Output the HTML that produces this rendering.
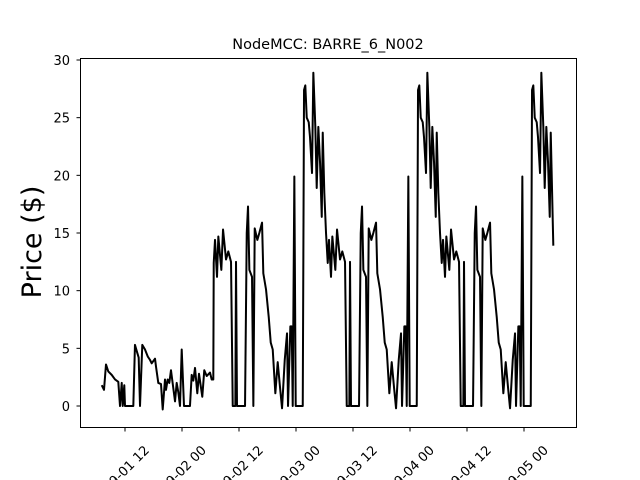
<!DOCTYPE html>
<html>
<head>
<meta charset="utf-8">
<style>
html,body{margin:0;padding:0;background:#fff;overflow:hidden;width:640px;height:480px;}
svg{display:block;font-family:"DejaVu Sans","Liberation Sans",sans-serif;}
</style>
</head>
<body>
<svg id="chart" width="640" height="480" viewBox="0 0 640 480" xmlns="http://www.w3.org/2000/svg" overflow="hidden">
  <rect x="0" y="0" width="640" height="480" fill="#fff"/>
  <text x="328" y="49" font-size="14.5" text-anchor="middle">NodeMCC: BARRE_6_N002</text>
  <text transform="translate(41,242) rotate(-90)" font-size="27" text-anchor="middle">Price ($)</text>
  <g id="yticks"></g>
  <g id="xticks"></g>
  <path id="series" fill="none" stroke="#000" stroke-width="2" stroke-linejoin="round"/>
  <rect x="80.5" y="58.5" width="496" height="369" fill="none" stroke="#000" stroke-width="1"/>
</svg>
<script>
// hours since 2019-09-01 00:00
const firstDayTimes = [31.10,31.58,32.0,32.48,33.2,33.9,34.59,34.95,35.31,35.52,35.85,36.0,37.75,38.1,38.59,38.88,39.16,39.64,40.21,40.78,41.26,41.62,42.32,42.53,43.01,43.58,43.94,44.42,44.63,44.99,45.33,45.68,46.53,46.88,47.22,47.58,47.94,48.42,49.68,50.04,50.38,50.74,51.22,51.58,52.27,52.69,53.2,53.89,54.25,54.59];
const firstDayPrices = [1.8,1.4,3.6,3.0,2.7,2.3,2.1,0,2.0,0,1.8,0,0,5.3,4.6,4.2,0,5.3,4.9,4.3,4.0,3.7,4.1,3.4,2.0,1.9,-0.3,2.3,1.4,2.3,2.0,3.1,0.4,2.0,1.2,0,4.9,0,0,2.7,2.2,3.3,1.1,2.8,0.8,3.1,2.6,2.9,2.3,2.3];

const day2Times = [54.68,54.95,55.37,55.65,56.28,56.64,57.27,57.75,58.32,58.68,59.23,59.37,59.58,61.27,61.63,61.9,62.18,62.74,63.02,63.31,63.86,64.28,64.85,65.12,65.69,66.26,66.68,67.1,67.65,68.15,68.64,69.06,69.63,70.11,70.32,70.81];
const day2Prices = [12.4,14.4,11.2,14.7,11.8,15.3,12.7,13.4,12.5,0,0,12.5,0,0,15,17.3,11.8,11.2,0,15.4,14.4,15,15.9,11.5,10.1,7.7,5.5,4.9,1.1,3.8,1.6,-0.2,4,6.3,0,6.9];

const day3Times = [71.1,71.31,71.65,71.94,73.42,73.69,73.96,74.26,74.68,74.95,75.37,75.65,76.07,76.36,76.7,77.06,77.42,77.63,77.96,78.32,78.68,78.95,79.37,79.65,80.28,80.64,81.27,81.75,82.32,82.68,83.23,83.37,83.58,85.27,85.63,85.9,86.18,86.74,87.02,87.31,87.86,88.28,88.85,89.12,89.69,90.26,90.68,91.1,91.65,92.15,92.64,93.06,93.63,94.11,94.32,94.81];
const day3Prices = [6.9,0,19.9,0,0,27.4,27.8,25,24.6,23.3,20.2,28.9,24.2,18.9,24.2,21.1,16.4,23.7,18.5,15,12.4,14.4,11.2,14.7,11.8,15.3,12.7,13.4,12.5,0,0,12.5,0,0,15,17.3,11.8,11.2,0,15.4,14.4,15,15.9,11.5,10.1,7.7,5.5,4.9,1.1,3.8,1.6,-0.2,4,6.3,0,6.9];

const day4Times = [95.1,95.31,95.65,95.94,97.42,97.69,97.96,98.26,98.68,98.95,99.37,99.65,100.07,100.36,100.7,101.06,101.42,101.63,101.96,102.32,102.68,102.95,103.37,103.65,104.28,104.64,105.27,105.75,106.32,106.68,107.23,107.37,107.58,109.27,109.63,109.9,110.18,110.74,111.02,111.31,111.86,112.28,112.85,113.12,113.69,114.26,114.68,115.1,115.65,116.15,116.64,117.06,117.63,118.11,118.32,118.81];
const day4Prices = [6.9,0,19.9,0,0,27.4,27.8,25,24.6,23.3,20.2,28.9,24.2,18.9,24.2,21.1,16.4,23.7,18.5,15,12.4,14.4,11.2,14.7,11.8,15.3,12.7,13.4,12.5,0,0,12.5,0,0,15,17.3,11.8,11.2,0,15.4,14.4,15,15.9,11.5,10.1,7.7,5.5,4.9,1.1,3.8,1.6,-0.2,4,6.3,0,6.9];

const day5Times = [119.1,119.31,119.65,119.94,121.42,121.69,121.96,122.26,122.68,122.95,123.37,123.65,124.07,124.36,124.7,125.06,125.42,125.63,126.17];
const day5Prices = [6.9,0,19.9,0,0,27.4,27.8,25,24.6,23.3,20.2,28.9,24.2,18.9,24.2,21.1,16.4,23.7,13.9];

const yTicks = [0,5,10,15,20,25,30];
const xTickHours = [36,48,60,72,84,96,108,120];
const xTickLabels = ["2019-09-01 12","2019-09-02 00","2019-09-02 12","2019-09-03 00","2019-09-03 12","2019-09-04 00","2019-09-04 12","2019-09-05 00"];

const NS = "http://www.w3.org/2000/svg";
function xScale(h){ return 125 + (h - 36) * 4.75; }
function yScale(v){ return 406 - v * (346 / 30); }

const times = [].concat(firstDayTimes, day2Times, day3Times, day4Times, day5Times);
const prices = [].concat(firstDayPrices, day2Prices, day3Prices, day4Prices, day5Prices);
let d = "";
for (let i = 0; i < times.length; i++) {
  d += (i ? "L" : "M") + xScale(times[i]).toFixed(2) + "," + yScale(prices[i]).toFixed(2);
}
document.getElementById("series").setAttribute("d", d);

const yg = document.getElementById("yticks");
yTicks.forEach(function(v){
  const y = yScale(v);
  const ln = document.createElementNS(NS, "line");
  ln.setAttribute("x1", 76.5); ln.setAttribute("x2", 80.5);
  ln.setAttribute("y1", y); ln.setAttribute("y2", y);
  ln.setAttribute("stroke", "#000");
  
  
  yg.appendChild(ln);
  const t = document.createElementNS(NS, "text");
  t.setAttribute("x", 70); t.setAttribute("y", y + 5);
  t.setAttribute("font-size", "13");
  t.setAttribute("text-anchor", "end");
  t.textContent = String(v);
  
  
  yg.appendChild(t);
});

const xg = document.getElementById("xticks");
xTickHours.forEach(function(h, i){
  const x = xScale(h);
  const ln = document.createElementNS(NS, "line");
  ln.setAttribute("x1", x); ln.setAttribute("x2", x);
  ln.setAttribute("y1", 427.5); ln.setAttribute("y2", 431.5);
  ln.setAttribute("stroke", "#000");
  
  
  xg.appendChild(ln);
  const t = document.createElementNS(NS, "text");
  t.setAttribute("transform", "translate(" + (x + 25) + ",451) rotate(-45)");
  t.setAttribute("font-size", "13");
  t.setAttribute("text-anchor", "end");
  t.textContent = xTickLabels[i];
  
  
  xg.appendChild(t);
});
</script>
</body>
</html>
